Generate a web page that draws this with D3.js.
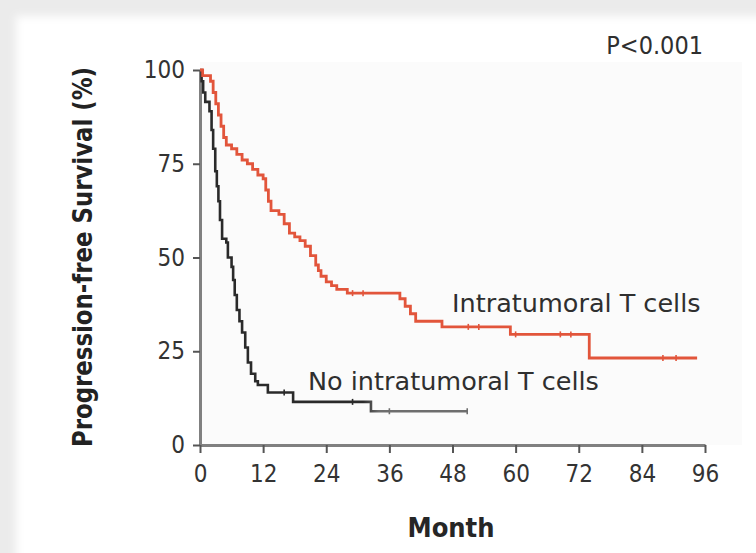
<!DOCTYPE html>
<html>
<head>
<meta charset="utf-8">
<script src="https://cdn.jsdelivr.net/npm/d3@7"></script>
<style>
  html, body { margin: 0; padding: 0; background: #ebebeb; }
  svg { display: block; }
</style>
</head>
<body>
<svg id="chart" width="756" height="553"></svg>
<script>
// Kaplan–Meier progression-free survival, by intratumoral T-cell status
// Each series: [month, survival %] step points (value holds until next point)
const withTcells = [
  [0, 100], [0.5, 98.5], [2, 97], [2.5, 94], [3, 91], [3.5, 88], [4, 85], [4.5, 82],
  [5, 80], [6, 79], [7, 77.5], [8, 76], [9, 75], [10, 73.5], [11, 72], [12, 71],
  [12.5, 68], [13, 65], [13.5, 62.5], [15, 61.5], [16, 59], [17, 56.5], [18, 55.5],
  [19, 54.5], [20, 53], [21, 50.5], [22, 48], [22.5, 46.5], [23, 45], [24, 43.5],
  [25, 42.5], [26, 41.5], [28, 40.5], [38, 39], [39, 37], [40, 35], [41, 33],
  [46, 31.5], [59, 29.5], [74, 23.2], [94.5, 23.2]
];
const withoutTcells = [
  [0, 100], [0.3, 97], [0.6, 94], [1, 91.5], [1.8, 89], [2.2, 84], [2.5, 79],
  [2.9, 73], [3.2, 69], [3.5, 65], [3.8, 60], [4.2, 55], [5, 54], [5.3, 50], [6, 47.5],
  [6.3, 44], [6.6, 40], [7, 36], [7.5, 33], [8, 30], [8.6, 26], [9.1, 22],
  [9.7, 19], [10.5, 17], [11, 16], [12.9, 14], [17.7, 11.5], [32.5, 9], [50.8, 9]
];
// censored observations (months)
const censorWith = [29, 31, 51, 53, 60, 68.5, 70.5, 88, 90.5];
const censorWithout = [16, 29, 36, 50.8];

const xTicks = [0, 12, 24, 36, 48, 60, 72, 84, 96];
const yTicks = [0, 25, 50, 75, 100];

const seriesLabels = ["Intratumoral T cells", "No intratumoral T cells"];
const pValueText = "P<0.001";
const xTitle = "Month";
const yTitle = "Progression-free Survival (%)";

const svg = d3.select("#chart");

// page card with soft edge
const defs = svg.append("defs");
defs.append("filter").attr("id", "soft")
  .attr("x", "-5%").attr("y", "-5%").attr("width", "110%").attr("height", "110%")
  .append("feGaussianBlur").attr("stdDeviation", 4);
svg.append("rect").attr("x", 16).attr("y", 16).attr("width", 760).attr("height", 560)
  .attr("fill", "#ffffff").attr("filter", "url(#soft)");

const x = d3.scaleLinear().domain([0, 96]).range([200, 705]);
const y = d3.scaleLinear().domain([0, 100]).range([445, 70]);

// faint plot panel
svg.append("rect").attr("x", 200).attr("y", 62).attr("width", 542).attr("height", 383)
  .attr("fill", "#fbfbfb");

// grey fade on the late, sparse part of the no-T-cell curve
const grad = defs.append("linearGradient").attr("id", "fadeGrey")
  .attr("gradientUnits", "userSpaceOnUse")
  .attr("x1", x(0)).attr("x2", x(96)).attr("y1", 0).attr("y2", 0);
grad.append("stop").attr("offset", (x(31) - x(0)) / (x(96) - x(0))).attr("stop-color", "#2a2a2a");
grad.append("stop").attr("offset", (x(34) - x(0)) / (x(96) - x(0))).attr("stop-color", "#6e6e6e");

const line = d3.line()
  .x(d => x(d[0])).y(d => y(d[1]))
  .curve(d3.curveStepAfter);

// axes
const axisColor = "#808080";
const tickFont = "'DejaVu Sans Condensed', 'DejaVu Sans', sans-serif";

const yAxis = svg.append("g").attr("transform", `translate(${x(0)},0)`)
  .call(d3.axisLeft(y).tickValues(yTicks).tickSize(7).tickPadding(8).tickSizeOuter(0));
const xAxis = svg.append("g").attr("transform", `translate(0,${y(0)})`)
  .call(d3.axisBottom(x).tickValues(xTicks).tickSize(8).tickPadding(12).tickSizeOuter(0));

[yAxis, xAxis].forEach(g => {
  g.select(".domain").attr("stroke", axisColor).attr("stroke-width", 3);
  g.selectAll(".tick line").attr("stroke", "#555").attr("stroke-width", 2);
  g.selectAll(".tick text")
    .attr("fill", "#333")
    .style("font-family", tickFont)
    .style("font-size", "24px");
});

// curves
svg.append("path").datum(withoutTcells)
  .attr("d", line).attr("fill", "none")
  .attr("stroke", "url(#fadeGrey)").attr("stroke-width", 2.6);

svg.append("path").datum(withTcells)
  .attr("d", line).attr("fill", "none")
  .attr("stroke", "#e2553b").attr("stroke-width", 2.8);

// censor marks
function survivalAt(series, t) {
  let v = series[0][1];
  for (const p of series) { if (p[0] <= t) v = p[1]; }
  return v;
}
svg.selectAll(".cw").data(censorWith).join("line")
  .attr("x1", d => x(d)).attr("x2", d => x(d))
  .attr("y1", d => y(survivalAt(withTcells, d)) - 3)
  .attr("y2", d => y(survivalAt(withTcells, d)) + 3)
  .attr("stroke", "#e2553b").attr("stroke-width", 1.6);
svg.selectAll(".cn").data(censorWithout).join("line")
  .attr("x1", d => x(d)).attr("x2", d => x(d))
  .attr("y1", d => y(survivalAt(withoutTcells, d)) - 3)
  .attr("y2", d => y(survivalAt(withoutTcells, d)) + 3)
  .attr("stroke", d => d > 33 ? "#6e6e6e" : "#2a2a2a").attr("stroke-width", 1.6);

// text
const labelFont = "'DejaVu Sans', sans-serif";
svg.append("text").attr("x", 452).attr("y", 312)
  .style("font-family", labelFont).style("font-size", "25.5px").attr("fill", "#2f2f2f")
  .text(seriesLabels[0]);
svg.append("text").attr("x", 308).attr("y", 390)
  .style("font-family", labelFont).style("font-size", "25.5px").attr("fill", "#2f2f2f")
  .text(seriesLabels[1]);

svg.append("text").attr("x", 703).attr("y", 54).attr("text-anchor", "end")
  .style("font-family", tickFont).style("font-size", "25px").attr("fill", "#2f2f2f")
  .text(pValueText);

svg.append("text").attr("x", 451).attr("y", 537).attr("text-anchor", "middle")
  .style("font-family", "'DejaVu Sans Condensed', 'DejaVu Sans', sans-serif")
  .style("font-weight", "bold").style("font-size", "27px").attr("fill", "#262626")
  .text(xTitle);

svg.append("text")
  .attr("transform", `translate(92,257) rotate(-90)`)
  .attr("text-anchor", "middle")
  .attr("textLength", 380).attr("lengthAdjust", "spacingAndGlyphs")
  .style("font-family", "'DejaVu Sans Condensed', 'DejaVu Sans', sans-serif")
  .style("font-weight", "bold").style("font-size", "27px").attr("fill", "#222")
  .text(yTitle);
</script>
</body>
</html>
